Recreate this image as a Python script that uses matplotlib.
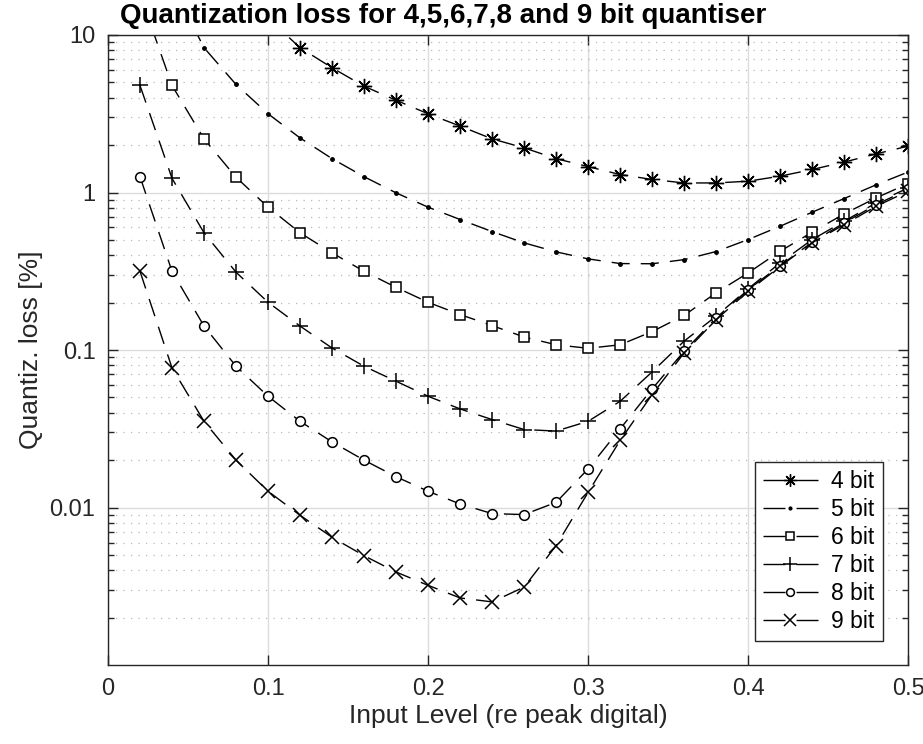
import numpy as np
import matplotlib
matplotlib.use("Agg")
import matplotlib.pyplot as plt
from matplotlib.ticker import FixedLocator, NullFormatter

plt.rcParams['font.family'] = ['Liberation Sans', 'DejaVu Sans']

# input level, re peak digital
niveau = [0.02, 0.04, 0.06, 0.08, 0.10, 0.12, 0.14, 0.16, 0.18, 0.20, 0.22, 0.24, 0.26,
          0.28, 0.30, 0.32, 0.34, 0.36, 0.38, 0.40, 0.42, 0.44, 0.46, 0.48, 0.50]

# perte de quantification [%]
perte_4 = [300, 75, 33, 19, 12.8, 8.3, 6.19, 4.73, 3.85, 3.16, 2.64, 2.19, 1.92,
           1.64, 1.46, 1.30, 1.21, 1.15, 1.15, 1.18, 1.27, 1.40, 1.56, 1.76, 1.97]
perte_5 = [120, 20.8, 8.3, 4.85, 3.16, 2.22, 1.64, 1.26, 0.995, 0.807, 0.674, 0.565, 0.479,
           0.42, 0.379, 0.354, 0.353, 0.375, 0.422, 0.503, 0.611, 0.75, 0.916, 1.12, 1.35]
perte_6 = [18.2, 4.78, 2.19, 1.25, 0.807, 0.555, 0.414, 0.316, 0.25, 0.201, 0.168, 0.143, 0.121,
           0.108, 0.1026, 0.108, 0.131, 0.166, 0.231, 0.309, 0.424, 0.56, 0.732, 0.925, 1.14]
perte_7 = [4.78, 1.23, 0.555, 0.312, 0.201, 0.142, 0.103, 0.0789, 0.0634, 0.0509, 0.0423, 0.0362, 0.0313,
           0.0306, 0.0353, 0.0473, 0.0727, 0.114, 0.164, 0.245, 0.358, 0.503, 0.657, 0.86, 1.07]
perte_8 = [1.26, 0.316, 0.142, 0.0789, 0.0509, 0.0353, 0.0261, 0.020, 0.0157, 0.0127, 0.01054, 0.00916, 0.00903,
           0.0108, 0.0176, 0.0316, 0.0567, 0.0983, 0.16, 0.242, 0.344, 0.484, 0.642, 0.839, 1.045]
perte_9 = [0.316, 0.077, 0.0353, 0.020, 0.0127, 0.00894, 0.00648, 0.00495, 0.0039, 0.00321, 0.00267, 0.00252, 0.00313,
           0.00574, 0.0125, 0.0267, 0.0522, 0.096, 0.156, 0.236, 0.34, 0.48, 0.626, 0.818, 1.02]

etiquettes = ["4 bit", "5 bit", "6 bit", "7 bit", "8 bit", "9 bit"]
x_ticks = [0, 0.1, 0.2, 0.3, 0.4, 0.5]
x_labels = ["0", "0.1", "0.2", "0.3", "0.4", "0.5"]
y_ticks = [0.01, 0.1, 1, 10]
y_labels = ["0.01", "0.1", "1", "10"]

gris = "#262626"

fig = plt.figure(figsize=(9.23, 7.44), dpi=100)
ax = fig.add_axes([0.117, 0.106, 0.867, 0.847])

#Styles des courbes
styles = [
    dict(marker=(8, 2, 0), ms=11, mew=1.0),
    dict(marker='.', ms=5),
    dict(marker='s', ms=6.5, mfc='white', mew=1.1),
    dict(marker='+', ms=12, mew=1.1),
    dict(marker='o', ms=7, mfc='white', mew=1.1),
    dict(marker='x', ms=10, mew=1.1),
]
series = [perte_4, perte_5, perte_6, perte_7, perte_8, perte_9]
for vals, st, lab in zip(series, styles, etiquettes):
    ax.plot(niveau, vals, color='black', lw=1.0, dashes=(13, 8), label=lab, **st)

ax.set_yscale('log')
ax.set_xlim(0, 0.5)
ax.set_ylim(0.001, 10)

ax.xaxis.set_major_locator(FixedLocator(x_ticks))
ax.set_xticklabels(x_labels)
ax.yaxis.set_major_locator(FixedLocator(y_ticks))
ax.set_yticklabels(y_labels)
minor = [m * 10.0 ** e for e in range(-3, 1) for m in range(2, 10)]
ax.yaxis.set_minor_locator(FixedLocator(minor))
ax.yaxis.set_minor_formatter(NullFormatter())

ax.grid(True, which='major', color='#dcdcdc', lw=1.0, ls='-')
ax.grid(True, which='minor', axis='y', color='#b8b8b8', lw=0.9, ls=(0, (1, 5)))
ax.set_axisbelow(True)

ax.tick_params(which='both', direction='in', top=True, right=True, colors=gris,
               labelsize=17, width=1.0, pad=9)
ax.tick_params(which='major', length=7)
ax.tick_params(which='minor', length=4)
for s in ax.spines.values():
    s.set_color(gris)
    s.set_linewidth(1.0)

ax.set_xlabel("Input Level (re peak digital)", fontsize=19, color=gris, labelpad=3)
ax.set_ylabel("Quantiz. loss [%]", fontsize=19, color=gris, labelpad=5)
fig.text(120 / 923, 1 - 23 / 744, "Quantization loss for 4,5,6,7,8 and 9 bit quantiser",
         fontsize=20, fontweight='bold', ha='left', va='baseline')

leg = ax.legend(loc='lower right', bbox_to_anchor=(0.968, 0.038), fontsize=16.5,
                handlelength=2.4, labelspacing=0.22, borderpad=0.35, handletextpad=0.6,
                borderaxespad=0, markerscale=0.8,
                fancybox=False, framealpha=1, edgecolor=gris)
leg.get_frame().set_linewidth(1.0)
#Tirets de la légende centrés sur le marqueur
for ligne in leg.get_lines():
    ligne.set_dashes((15.8, 8))

fig.savefig("out.png", dpi=100)
